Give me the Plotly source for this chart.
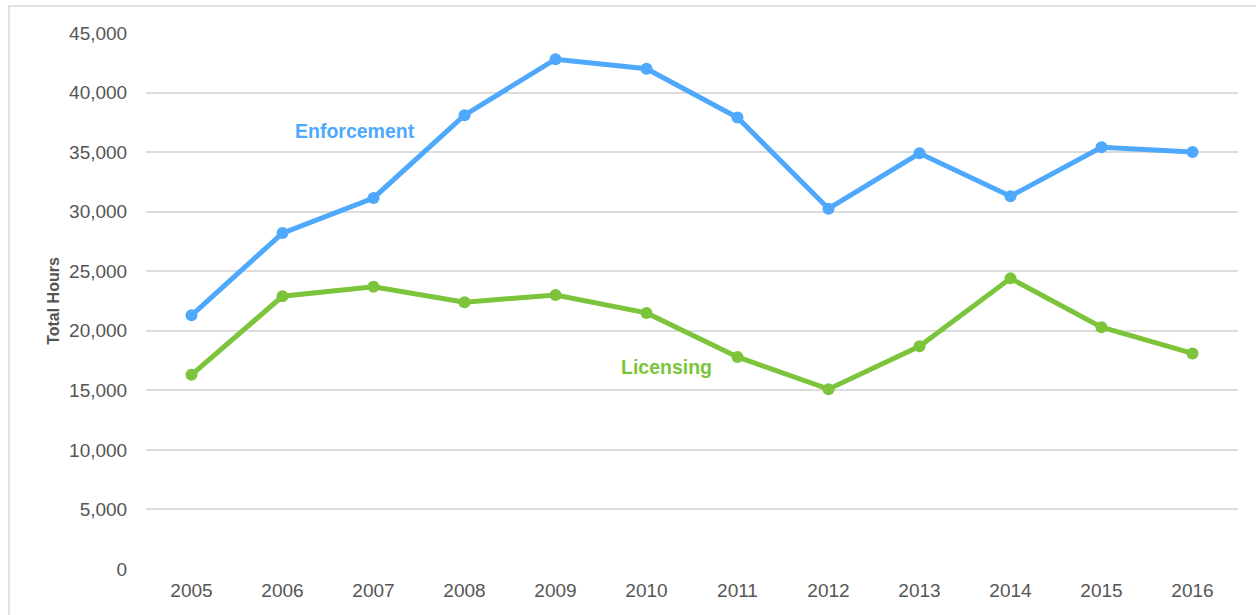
import plotly.graph_objects as go

years = ["2005", "2006", "2007", "2008", "2009", "2010", "2011", "2012", "2013", "2014", "2015", "2016"]
enforcement = [21300, 28200, 31150, 38100, 42800, 42000, 37900, 30250, 34900, 31300, 35400, 35000]
licensing = [16300, 22900, 23700, 22400, 23000, 21500, 17800, 15100, 18700, 24400, 20300, 18100]
y_ticks = [0, 5000, 10000, 15000, 20000, 25000, 30000, 35000, 40000, 45000]

BLUE = "#4ea8fc"
GREEN = "#7cc43b"

fig = go.Figure()
fig.add_trace(go.Scatter(x=years, y=enforcement, mode="lines+markers", name="Enforcement",
                         line=dict(color=BLUE, width=5), marker=dict(color=BLUE, size=12)))
fig.add_trace(go.Scatter(x=years, y=licensing, mode="lines+markers", name="Licensing",
                         line=dict(color=GREEN, width=5), marker=dict(color=GREEN, size=12)))

L, R, T, B = 146, 18, 33, 46
W, H = 1256, 615
pw, ph = W - L - R, H - T - B

def px(x):
    return (x - L) / pw

def py(y):
    return (H - B - y) / ph

fig.update_layout(
    width=W, height=H,
    margin=dict(l=L, r=R, t=T, b=B, autoexpand=False),
    paper_bgcolor="white", plot_bgcolor="white",
    showlegend=False,
    font=dict(family="Liberation Sans, Arial, sans-serif", color="#555555"),
    xaxis=dict(type="category", range=[-0.5, len(years) - 0.5],
               showgrid=False, zeroline=False, showline=False, automargin=False,
               tickfont=dict(size=19, color="#555555"), ticks="outside", ticklen=4,
               tickcolor="rgba(0,0,0,0)"),
    yaxis=dict(range=[0, 45000], tickvals=y_ticks, tickformat=",d", automargin=False,
               showgrid=True, gridcolor="#dcdcdc", gridwidth=1.8, zeroline=False, showline=False,
               tickfont=dict(size=19, color="#555555"), ticks="outside", ticklen=14,
               tickcolor="rgba(0,0,0,0)",
               title=dict(text="<b>Total Hours</b>", font=dict(size=16, color="#555555"), standoff=5)),
    annotations=[
        dict(text="<b>Enforcement</b>", x=px(355), y=py(131), xref="paper", yref="paper",
             showarrow=False, font=dict(size=19.5, color=BLUE), xanchor="center", yanchor="middle"),
        dict(text="<b>Licensing</b>", x=px(666), y=py(367), xref="paper", yref="paper",
             showarrow=False, font=dict(size=19.5, color=GREEN), xanchor="center", yanchor="middle"),
    ],
    shapes=[
        dict(type="rect", xref="paper", yref="paper", x0=px(9), x1=px(1270), y0=py(630), y1=py(6),
             line=dict(color="#d9d9d9", width=1.5), fillcolor="rgba(0,0,0,0)", layer="below"),
    ],
)

fig.write_html("out.html", config={"displayModeBar": False},
               post_script="document.body.style.margin='0';document.body.style.overflow='hidden';")
